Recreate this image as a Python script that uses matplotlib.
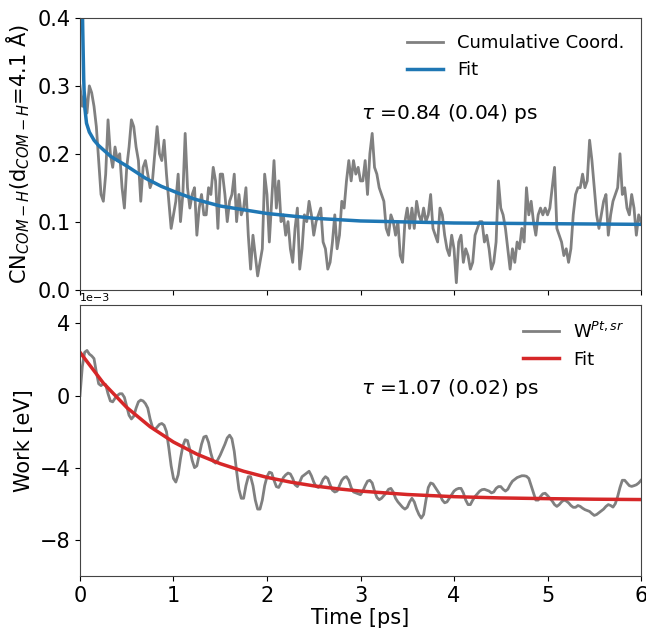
import matplotlib
matplotlib.use("Agg")
import matplotlib.pyplot as plt
import numpy as np


# 累积配位数（灰线），每 0.025 ps 一个点，0 ~ 6 ps
cn_time = np.arange(241) * 0.025
cn_values = [
    0.30, 0.27, 0.29, 0.26, 0.30, 0.29, 0.27, 0.24, 0.19, 0.14,
    0.13, 0.17, 0.25, 0.20, 0.18, 0.21, 0.19, 0.20, 0.15, 0.12,
    0.18, 0.21, 0.25, 0.24, 0.21, 0.19, 0.13, 0.18, 0.19, 0.17,
    0.15, 0.16, 0.20, 0.24, 0.20, 0.19, 0.22, 0.17, 0.13, 0.09,
    0.11, 0.13, 0.17, 0.10, 0.14, 0.23, 0.15, 0.12, 0.14, 0.15,
    0.08, 0.12, 0.14, 0.11, 0.11, 0.15, 0.14, 0.18, 0.16, 0.09,
    0.17,
    0.17, 0.14, 0.10, 0.13, 0.14, 0.17, 0.10, 0.14, 0.11, 0.12,
    0.15, 0.08, 0.03, 0.08, 0.05, 0.02, 0.04, 0.06, 0.17, 0.14,
    0.07, 0.13, 0.19, 0.12, 0.16, 0.10, 0.11, 0.08, 0.10, 0.06,
    0.04, 0.09, 0.12, 0.03, 0.06, 0.11, 0.10, 0.13, 0.11, 0.08,
    0.10, 0.11, 0.12, 0.07, 0.06, 0.03, 0.04, 0.07, 0.11, 0.06,
    0.08, 0.13, 0.12, 0.16, 0.19, 0.16, 0.19, 0.17, 0.18, 0.16,
    0.16, 0.19, 0.14, 0.20, 0.23, 0.18, 0.17, 0.15, 0.14, 0.13,
    0.09, 0.08, 0.11, 0.10, 0.08, 0.10, 0.05, 0.04, 0.10, 0.12,
    0.09, 0.12, 0.09, 0.13, 0.11, 0.10, 0.12, 0.10, 0.11, 0.14,
    0.09, 0.08, 0.07, 0.12, 0.11, 0.08, 0.06, 0.05, 0.08, 0.06,
    0.01, 0.07, 0.08, 0.04, 0.06, 0.05, 0.03, 0.04, 0.08, 0.09,
    0.10, 0.10, 0.07, 0.08, 0.06, 0.03, 0.04, 0.07, 0.16, 0.12,
    0.11, 0.09, 0.06, 0.03, 0.06, 0.04, 0.07, 0.06, 0.09, 0.07,
    0.15, 0.11, 0.13, 0.10, 0.08, 0.11, 0.12, 0.11, 0.12, 0.11,
    0.12, 0.15, 0.18, 0.09, 0.08, 0.07, 0.05, 0.06, 0.04, 0.06,
    0.11, 0.14, 0.15, 0.15, 0.17, 0.15, 0.16, 0.22, 0.19, 0.15,
    0.11, 0.09, 0.11, 0.13, 0.14, 0.08, 0.11, 0.13, 0.14, 0.15,
    0.20, 0.14, 0.15, 0.12, 0.11, 0.14, 0.12, 0.08, 0.11, 0.10,
]

# 配位数拟合曲线（蓝线）
cn_fit_time = [0.015, 0.025, 0.03, 0.04, 0.05, 0.07, 0.10, 0.15, 0.20, 0.33,
               0.50, 0.70, 0.87, 1.05, 1.23, 1.50, 2.00, 2.50, 3.00, 4.00,
               5.00, 6.00]
cn_fit_values = [0.46, 0.42, 0.38, 0.31, 0.27, 0.245, 0.232, 0.220, 0.212, 0.196,
                 0.182, 0.164, 0.152, 0.142, 0.133, 0.123, 0.112, 0.105, 0.101, 0.098,
                 0.097, 0.096]

# 功（灰线），单位 1e-3 eV，每 0.025 ps 一个点
work_time = np.arange(241) * 0.025
work_values = [
    0.0, 1.6, 2.4, 2.5, 2.3, 2.2, 2.05, 1.3, 0.65, 0.55,
    0.65, 0.6, 0.1, -0.3, -0.35, -0.15, 0.0, 0.1, 0.1, -0.1,
    -0.6, -1.1, -1.3, -1.15, -0.7, -0.35, -0.25, -0.3, -0.45, -0.7,
    -1.3, -1.75, -1.9, -1.75, -1.6, -1.55, -1.65, -2.0, -2.9, -3.9,
    -4.6, -4.8, -4.4, -3.5, -2.8, -2.45, -2.5, -3.0, -3.6, -4.0,
    -3.9, -3.3, -2.7, -2.3, -2.25, -2.6, -3.2, -3.65, -3.75, -3.55,
    -3.3, -3.0, -2.7, -2.35, -2.2, -2.4, -3.1, -4.2, -5.2, -5.7,
    -5.7, -5.0, -4.5, -4.5, -5.0, -5.8, -6.3, -6.3, -5.8, -5.0,
    -4.5, -4.25, -4.3, -4.7, -5.05, -5.1, -4.85, -4.55, -4.4, -4.3,
    -4.35, -4.6, -4.95, -5.05, -4.8, -4.5, -4.4, -4.3, -4.2, -4.45,
    -4.8, -5.05, -5.1, -4.95, -4.65, -4.5, -4.6, -4.95, -5.25, -5.35,
    -5.3, -5.0, -4.7, -4.55, -4.5, -4.7, -5.1, -5.35, -5.4, -5.45,
    -5.5, -5.3, -5.0, -4.75, -4.7, -4.85, -5.3, -5.65, -5.78, -5.7,
    -5.55, -5.4, -5.2, -5.15, -5.35, -5.7, -5.9, -6.05, -6.2, -6.3,
    -6.2, -5.9, -5.7, -5.9, -6.3, -6.6, -6.8, -6.6, -5.8, -5.1,
    -4.85, -4.9, -5.1, -5.3, -5.5, -5.8, -5.95, -5.9, -5.7, -5.5,
    -5.3, -5.2, -5.15, -5.15, -5.4, -5.8, -6.05, -6.05, -5.8, -5.6,
    -5.45, -5.3, -5.22, -5.2, -5.25, -5.3, -5.4, -5.35, -5.15, -5.05,
    -5.05, -5.2, -5.3, -5.2, -4.95, -4.75, -4.65, -4.55, -4.5, -4.45,
    -4.45, -4.48, -4.6, -5.0, -5.4, -5.8, -5.8, -5.6, -5.45, -5.42,
    -5.55, -5.7, -5.85, -6.05, -6.15, -6.05, -5.9, -5.8, -5.85, -5.95,
    -6.1, -6.2, -6.2, -6.1, -6.15, -6.25, -6.33, -6.38, -6.43, -6.55,
    -6.65, -6.6, -6.5, -6.4, -6.3, -6.15, -6.05, -6.1, -6.19, -6.0,
    -5.6, -5.1, -4.7, -4.7, -4.85, -5.0, -5.04, -5.0, -4.95, -4.85,
    -4.7,
]

# 功的拟合曲线（红线），单位 1e-3 eV
work_fit_time = [0.0, 0.25, 0.5, 0.75, 1.0, 1.25, 1.5, 1.75, 2.0, 2.25,
                 2.5, 2.75, 3.0, 3.5, 4.0, 4.5, 5.0, 5.5, 6.0]
work_fit_values = [2.40, 0.69, -0.66, -1.73, -2.58, -3.25, -3.78, -4.20, -4.54, -4.80,
                   -5.01, -5.17, -5.30, -5.49, -5.61, -5.68, -5.72, -5.75, -5.77]


fig = plt.figure(figsize=(6.46, 6.28), dpi=100)
ax_top = fig.add_axes([0.1238, 0.5390, 0.8685, 0.4323])
ax_bot = fig.add_axes([0.1238, 0.0831, 0.8685, 0.4306], sharex=ax_top)

ax_top.plot(cn_time, cn_values, color="gray", linewidth=2.0, label="Cumulative Coord.")
ax_top.plot(cn_fit_time, cn_fit_values, color="#1f77b4", linewidth=2.5, label="Fit")
ax_top.set_ylim(0, 0.4)
ax_top.set_yticks([0.0, 0.1, 0.2, 0.3, 0.4])
ax_top.set_ylabel(r"CN$_{COM-H}$(d$_{COM-H}$=4.1 Å)", fontsize=15, labelpad=4)
ax_top.tick_params(labelsize=15, labelbottom=False)
ax_top.text(3.0, 0.26, r"$\tau$ =0.84 (0.04) ps", fontsize=14.5, va="center", ha="left")
ax_top.legend(loc="upper right", frameon=False, fontsize=13, handlelength=2.0)

ax_bot.plot(work_time, np.array(work_values) * 1e-3, color="gray", linewidth=2.0,
            label=r"W$^{Pt,sr}$")
ax_bot.plot(work_fit_time, np.array(work_fit_values) * 1e-3, color="#d62728",
            linewidth=2.5, label="Fit")
ax_bot.set_ylim(-10e-3, 5e-3)
ax_bot.set_yticks([-8e-3, -4e-3, 0, 4e-3])
ax_bot.ticklabel_format(axis="y", style="sci", scilimits=(0, 0))
ax_bot.set_xlim(0, 6)
ax_bot.set_xticks(range(7))
ax_bot.set_xlabel("Time [ps]", fontsize=15, labelpad=2)
ax_bot.set_ylabel("Work [eV]", fontsize=15)
ax_bot.tick_params(labelsize=15)
ax_bot.yaxis.get_offset_text().set_fontsize(8)
ax_bot.text(3.0, 0.4e-3, r"$\tau$ =1.07 (0.02) ps", fontsize=14.5, va="center", ha="left")
ax_bot.legend(loc="upper right", frameon=False, fontsize=13, handlelength=2.0)

for ax in (ax_top, ax_bot):
    for spine in ax.spines.values():
        spine.set_color("#444444")

fig.savefig("out.png", dpi=100)
plt.close(fig)
